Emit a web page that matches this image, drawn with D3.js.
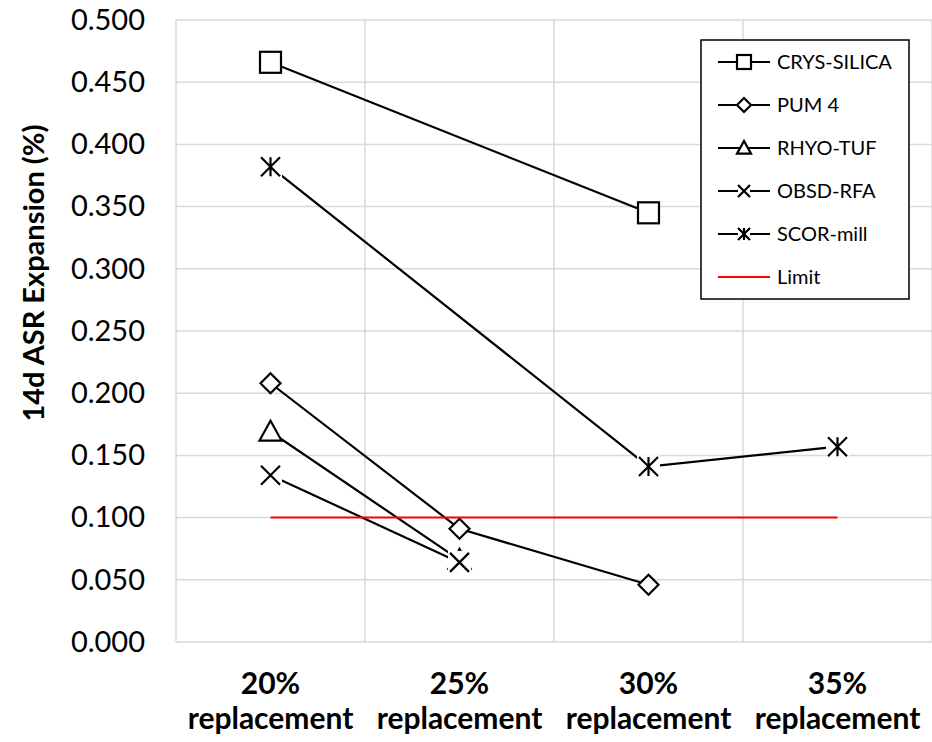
<!DOCTYPE html>
<html>
<head>
<meta charset="utf-8">
<script src="https://cdn.jsdelivr.net/npm/d3@7"></script>
<style>
  html, body { margin: 0; padding: 0; background: #fff; }
  svg { display: block; font-family: Lato, "Open Sans", "Liberation Sans", sans-serif; }
</style>
</head>
<body>
<svg id="chart" width="932" height="742"></svg>
<script>
// Replacement levels (x categories)
const categories = ["20%", "25%", "30%", "35%"];
const categorySub = "replacement";

// 14-day ASR expansion (%) per aggregate; null = not tested
const crysSilica = [0.466, null, 0.345, null];
const pum4       = [0.208, 0.091, 0.046, null];
const rhyoTuf    = [0.169, 0.066, null, null];
const obsdRfa    = [0.134, 0.064, null, null];
const scorMill   = [0.382, null, 0.141, 0.157];
const limit      = [0.100, 0.100, 0.100, 0.100];

const yTicks = [0, 0.05, 0.1, 0.15, 0.2, 0.25, 0.3, 0.35, 0.4, 0.45, 0.5];

const series = [
  { name: "CRYS-SILICA", values: crysSilica, marker: "square" },
  { name: "PUM 4",       values: pum4,       marker: "diamond" },
  { name: "RHYO-TUF",    values: rhyoTuf,    marker: "triangle" },
  { name: "OBSD-RFA",    values: obsdRfa,    marker: "x" },
  { name: "SCOR-mill",   values: scorMill,   marker: "star" }
];

const svg = d3.select("#chart");
const plot = { left: 176, right: 932, top: 20, bottom: 642 };

const x = d3.scaleBand().domain(categories).range([plot.left, plot.right]);
const y = d3.scaleLinear().domain([0, 0.5]).range([plot.bottom, plot.top]);
const cx = c => x(c) + x.bandwidth() / 2;

const grid = svg.append("g");
// horizontal gridlines
grid.selectAll("line.h").data(yTicks).join("line")
  .attr("x1", plot.left).attr("x2", plot.right)
  .attr("y1", d => y(d)).attr("y2", d => y(d))
  .attr("stroke", "#d9d9d9").attr("stroke-width", 1.5);
// vertical gridlines at category boundaries
const bounds = categories.map(c => x(c)).concat([plot.right]);
grid.selectAll("line.v").data(bounds).join("line")
  .attr("x1", d => d).attr("x2", d => d)
  .attr("y1", plot.top).attr("y2", plot.bottom)
  .attr("stroke", "#d9d9d9").attr("stroke-width", 1.5);

// y axis labels
const yAxis = d3.axisLeft(y).tickValues(yTicks).tickFormat(d3.format(".3f")).tickSize(0).tickPadding(31);
const yg = svg.append("g").attr("transform", `translate(${plot.left},0)`).call(yAxis);
yg.select(".domain").remove();
yg.selectAll("text").attr("font-size", 29).attr("fill", "#000")
  .attr("font-family", "Lato, 'Open Sans', sans-serif");

// x axis labels (two lines, bold)
const xg = svg.append("g");
categories.forEach(c => {
  const t = xg.append("text").attr("text-anchor", "middle")
    .attr("font-size", 30).attr("font-weight", "bold").attr("fill", "#000");
  t.append("tspan").attr("x", cx(c)).attr("y", 694).text(c);
  t.append("tspan").attr("x", cx(c)).attr("y", 729).text(categorySub);
});

// y axis title
svg.append("text")
  .attr("transform", `translate(44,273) rotate(-90)`)
  .attr("text-anchor", "middle").attr("font-size", 28.5).attr("font-weight", "bold")
  .attr("textLength", 297).attr("lengthAdjust", "spacingAndGlyphs")
  .text("14d ASR Expansion (%)");

// marker drawing helper
function drawMarker(g, type, px, py, s) {
  const h = s / 2;
  if (type === "square") {
    g.append("rect").attr("x", px - h).attr("y", py - h).attr("width", s).attr("height", s)
      .attr("fill", "#fff").attr("stroke", "#000").attr("stroke-width", 2.2);
  } else if (type === "diamond") {
    g.append("path").attr("d", `M${px},${py - h}L${px + h},${py}L${px},${py + h}L${px - h},${py}Z`)
      .attr("fill", "#fff").attr("stroke", "#000").attr("stroke-width", 2.2);
  } else if (type === "triangle") {
    g.append("path").attr("d", `M${px},${py - h}L${px + h},${py + h * 0.8}L${px - h},${py + h * 0.8}Z`)
      .attr("fill", "#fff").attr("stroke", "#000").attr("stroke-width", 2.2);
  } else if (type === "x" || type === "star") {
    const k = h * 0.95;
    const b = h * 1.15;
    // white backing behind the cross
    g.append("rect").attr("x", px - b).attr("y", py - b).attr("width", 2 * b).attr("height", 2 * b)
      .attr("fill", "#fff");
    let d = `M${px - k},${py - k}L${px + k},${py + k}M${px - k},${py + k}L${px + k},${py - k}`;
    if (type === "star") d += `M${px},${py - k}L${px},${py + k}`;
    g.append("path").attr("d", d)
      .attr("stroke", "#000").attr("stroke-width", 2.2).attr("fill", "none");
  }
}

// series: line then markers, in series order
const sizes = { square: 21, diamond: 20, triangle: 22, x: 20, star: 20 };
series.forEach(s => {
  const g = svg.append("g");
  const pts = categories.map((c, i) => ({ c, v: s.values[i] })).filter(d => d.v != null);
  g.append("path").datum(pts)
    .attr("d", d3.line().x(d => cx(d.c)).y(d => y(d.v)))
    .attr("fill", "none").attr("stroke", "#000").attr("stroke-width", 2.2);
  pts.forEach(d => drawMarker(g, s.marker, cx(d.c), y(d.v), sizes[s.marker]));
});

// limit line
svg.append("path")
  .datum(categories.map((c, i) => ({ c, v: limit[i] })))
  .attr("d", d3.line().x(d => cx(d.c)).y(d => y(d.v)))
  .attr("fill", "none").attr("stroke", "#ff0000").attr("stroke-width", 2);

// legend
const lg = svg.append("g");
lg.append("rect").attr("x", 701).attr("y", 40).attr("width", 208).attr("height", 259)
  .attr("fill", "#fff").attr("stroke", "#000").attr("stroke-width", 1.5);
const legendItems = series.map(s => ({ name: s.name, marker: s.marker, color: "#000" }))
  .concat([{ name: "Limit", marker: null, color: "#ff0000" }]);
legendItems.forEach((d, i) => {
  const ly = 62 + i * 43;
  lg.append("line").attr("x1", 718).attr("x2", 770).attr("y1", ly).attr("y2", ly)
    .attr("stroke", d.color).attr("stroke-width", 2);
  if (d.marker) {
    const gm = lg.append("g");
    if (d.marker === "x" || d.marker === "star") {
      gm.append("rect").attr("x", 738).attr("y", ly - 7).attr("width", 12).attr("height", 14).attr("fill", "#fff");
      const k = 6;
      let p = `M${744 - k},${ly - k}L${744 + k},${ly + k}M${744 - k},${ly + k}L${744 + k},${ly - k}`;
      if (d.marker === "star") p += `M744,${ly - k}L744,${ly + k}`;
      gm.append("path").attr("d", p).attr("stroke", "#000").attr("stroke-width", 2.2).attr("fill", "none");
    } else {
      drawMarker(gm, d.marker, 744, ly, 14);
    }
  }
  lg.append("text").attr("x", 777).attr("y", ly).attr("dy", "0.35em")
    .attr("font-size", 20).attr("fill", "#000").text(d.name);
});
</script>
</body>
</html>
